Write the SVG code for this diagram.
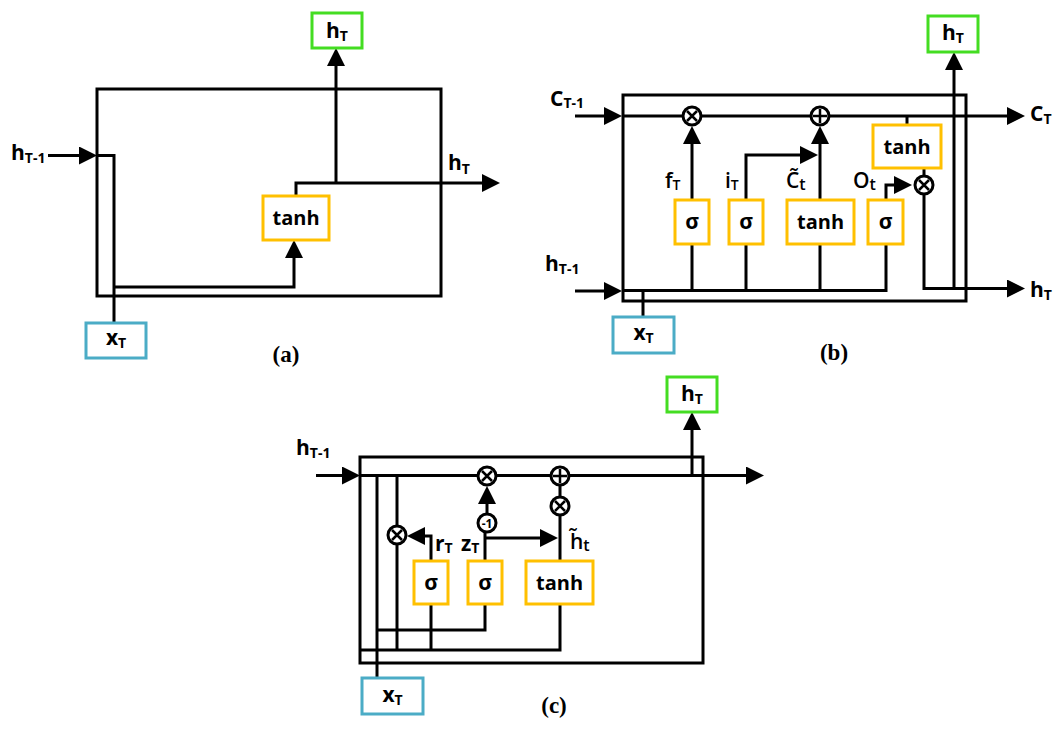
<svg xmlns="http://www.w3.org/2000/svg" width="1062" height="731" viewBox="0 0 1062 731">
<defs>
<marker id="ah" viewBox="0 0 18 18" markerWidth="18" markerHeight="18" refX="8" refY="9" orient="auto" markerUnits="userSpaceOnUse"><path d="M0,0 L18,9 L0,18 z" fill="#000"/></marker>
<style>
.frame{fill:none;stroke:#000;stroke-width:3}
.ln{fill:none;stroke:#000;stroke-width:3}
.ar{fill:none;stroke:#000;stroke-width:3;marker-end:url(#ah)}
.ob{fill:#fff;stroke:#FFC000;stroke-width:3}
.gb{fill:#fff;stroke:#44DD22;stroke-width:3}
.bb{fill:#fff;stroke:#4BACC6;stroke-width:3}
.op{fill:#fff;stroke:#000;stroke-width:3}
.x{stroke:#000;stroke-width:2.5}
.b{font-family:"Open Sans","Liberation Sans",sans-serif;font-weight:700;font-size:21px;fill:#000}
.r{font-family:"Open Sans","Liberation Sans",sans-serif;font-weight:600;font-size:21px;fill:#000}
.s{font-size:14px}
.cap{font-family:"Liberation Serif",serif;font-weight:700;font-size:23px;fill:#000}
.m{text-anchor:middle}
</style>
</defs>
<rect width="1062" height="731" fill="#fff"/>

<!-- ============ Panel (a) ============ -->
<g id="cell-a"><rect class="frame" x="97" y="89" width="344" height="207"/></g>
<g id="connectors-a">
<path class="ar" d="M48,155.5 H87"/>
<path class="ln" d="M97,155.5 H114 V323"/>
<path class="ar" d="M114,287 H294 V250"/>
<path class="ar" d="M296,196 V183 H490"/>
<path class="ar" d="M336,183 V58"/>
</g>
<g id="a-tanh"><rect class="ob" x="263" y="196" width="66" height="44"/><text class="b m" x="296" y="225" style="font-size:20px">tanh</text></g>
<g id="a-hT-out"><rect class="gb" x="312" y="13" width="50" height="35"/><text class="b m" x="337" y="38">h<tspan class="s" dy="3">T</tspan></text></g>
<g id="a-xT"><rect class="bb" x="86" y="323" width="60" height="35"/><text class="b m" x="116" y="345">x<tspan class="s" dy="3">T</tspan></text></g>
<g id="a-labels">
<text class="b" x="11" y="160">h<tspan class="s" dy="3">T-1</tspan></text>
<text class="b" x="448" y="170">h<tspan class="s" dy="4">T</tspan></text>
<text class="cap m" x="286" y="362">(a)</text>
</g>

<!-- ============ Panel (b) ============ -->
<g id="cell-b"><rect class="frame" x="623" y="95" width="343" height="206"/></g>
<g id="connectors-b">
<path class="ar" d="M575,116 H612"/>
<path class="ar" d="M623,116 H1015"/>
<path class="ar" d="M692,200 V136"/>
<path class="ar" d="M746,200 V155 H808"/>
<path class="ar" d="M820,200 V136"/>
<path class="ln" d="M907,116 V125"/>
<path class="ln" d="M924,168 V176"/>
<path class="ar" d="M886,200 V185 H902"/>
<path class="ar" d="M924,194 V288.5 H1015"/>
<path class="ar" d="M954,288.5 V62"/>
<path class="ar" d="M575,291 H612"/>
<path class="ln" d="M623,290.5 H886 V244"/>
<path class="ln" d="M692,290.5 V244 M746,290.5 V244 M820,290.5 V244"/>
<path class="ln" d="M643,290.5 V317"/>
</g>
<g id="b-mul-f"><circle class="op" cx="692" cy="116" r="9"/><path class="x" d="M687,111 L697,121 M697,111 L687,121"/></g>
<g id="b-add"><circle class="op" cx="820" cy="116" r="9"/><path class="x" d="M820,109 V123 M813,116 H827"/></g>
<g id="b-mul-o"><circle class="op" cx="924" cy="185" r="9"/><path class="x" d="M919,180 L929,190 M929,180 L919,190"/></g>
<g id="b-sig-f"><rect class="ob" x="675" y="200" width="34" height="44"/><text class="b m" x="692" y="229">σ</text></g>
<g id="b-sig-i"><rect class="ob" x="729" y="200" width="34" height="44"/><text class="b m" x="746" y="229">σ</text></g>
<g id="b-tanh-c"><rect class="ob" x="787" y="200" width="67" height="44"/><text class="b m" x="820.5" y="229" style="font-size:20px">tanh</text></g>
<g id="b-sig-o"><rect class="ob" x="868" y="200" width="35" height="44"/><text class="b m" x="885.5" y="229">σ</text></g>
<g id="b-tanh-out"><rect class="ob" x="873" y="125" width="68" height="43"/><text class="b m" x="907" y="154" style="font-size:20px">tanh</text></g>
<g id="b-hT-out"><rect class="gb" x="928" y="16" width="50" height="36"/><text class="b m" x="953" y="40">h<tspan class="s" dy="3">T</tspan></text></g>
<g id="b-xT"><rect class="bb" x="613" y="317" width="61" height="36"/><text class="b m" x="643.5" y="340">x<tspan class="s" dy="3">T</tspan></text></g>
<g id="b-labels">
<text class="b" x="550" y="106">C<tspan class="s" dy="2">T-1</tspan></text>
<text class="b" x="1030" y="121">C<tspan class="s" dy="3">T</tspan></text>
<text class="b" x="545" y="271">h<tspan class="s" dy="3">T-1</tspan></text>
<text class="b" x="1030" y="297">h<tspan class="s" dy="3">T</tspan></text>
<text class="r" x="665" y="188">f<tspan class="s" dy="2">T</tspan></text>
<text class="r" x="725" y="188">i<tspan class="s" dy="2">T</tspan></text>
<text class="r" x="786" y="188">C̃<tspan dy="2" style="font-size:16px">t</tspan></text>
<text class="r" x="853" y="188">O<tspan dy="2" style="font-size:16px">t</tspan></text>
<text class="cap m" x="834" y="360">(b)</text>
</g>

<!-- ============ Panel (c) ============ -->
<g id="cell-c"><rect class="frame" x="360" y="457" width="343" height="206"/></g>
<g id="connectors-c">
<path class="ar" d="M316,475.5 H350"/>
<path class="ar" d="M360,475.5 H754"/>
<path class="ln" d="M377,475.5 V678"/>
<path class="ln" d="M397,475.5 V650"/>
<path class="ln" d="M360,650 H560 V604"/>
<path class="ln" d="M431,604 V650"/>
<path class="ln" d="M377,630 H485 V604"/>
<path class="ar" d="M431,561 V536 H417"/>
<path class="ln" d="M485,561 V532"/>
<path class="ar" d="M487,514 V496"/>
<path class="ar" d="M485,538 H548"/>
<path class="ln" d="M560,561 V515 M560,497 V485"/>
<path class="ar" d="M692,475.5 V422"/>
</g>
<g id="c-mul-top"><circle class="op" cx="487" cy="476" r="9"/><path class="x" d="M482,471 L492,481 M492,471 L482,481"/></g>
<g id="c-add"><circle class="op" cx="560" cy="476" r="9"/><path class="x" d="M560,469 V483 M553,476 H567"/></g>
<g id="c-mul-h"><circle class="op" cx="560" cy="506" r="9"/><path class="x" d="M555,501 L565,511 M565,501 L555,511"/></g>
<g id="c-mul-r"><circle class="op" cx="397" cy="535" r="9"/><path class="x" d="M392,530 L402,540 M402,530 L392,540"/></g>
<g id="c-neg"><circle class="op" cx="487" cy="523" r="9"/><text class="b m" x="487" y="527.5" style="font-size:12px">-1</text></g>
<g id="c-sig-r"><rect class="ob" x="414" y="561" width="34" height="43"/><text class="b m" x="431" y="590">σ</text></g>
<g id="c-sig-z"><rect class="ob" x="468" y="561" width="34" height="43"/><text class="b m" x="485" y="590">σ</text></g>
<g id="c-tanh"><rect class="ob" x="526" y="561" width="67" height="43"/><text class="b m" x="559.5" y="590" style="font-size:20px">tanh</text></g>
<g id="c-hT-out"><rect class="gb" x="667" y="377" width="50" height="35"/><text class="b m" x="692" y="401">h<tspan class="s" dy="3">T</tspan></text></g>
<g id="c-xT"><rect class="bb" x="362" y="678" width="61" height="36"/><text class="b m" x="392.5" y="702">x<tspan class="s" dy="3">T</tspan></text></g>
<g id="c-labels">
<text class="b" x="296" y="455">h<tspan class="s" dy="3">T-1</tspan></text>
<text class="b" x="435" y="551">r<tspan class="s" dy="2">T</tspan></text>
<text class="b" x="461" y="551">z<tspan class="s" dy="2">T</tspan></text>
<text class="r" x="570" y="549">h̃<tspan dy="2" style="font-size:16px">t</tspan></text>
<text class="cap m" x="554" y="713">(c)</text>
</g>
</svg>
